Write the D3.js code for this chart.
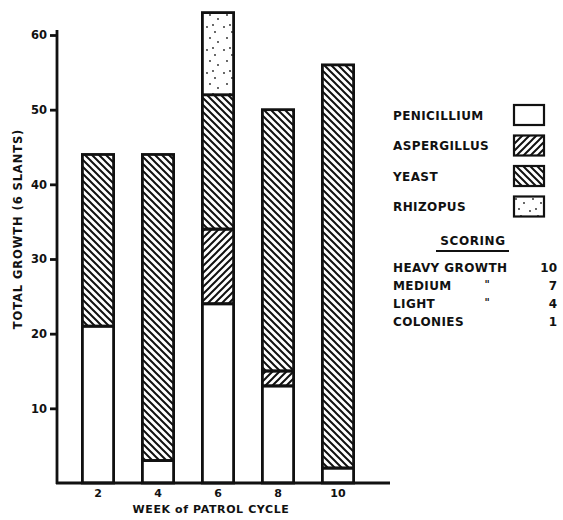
<!DOCTYPE html>
<html>
<head>
<meta charset="utf-8">
<script src="https://cdn.jsdelivr.net/npm/d3@7/dist/d3.min.js"></script>
<style>
  body { margin: 0; background: #fff; }
  text { font-family: "DejaVu Sans", sans-serif; font-weight: bold; fill: #111; }
</style>
</head>
<body>
<div id="container"></div>
<script>
// chart values
const weeks = ["2", "4", "6", "8", "10"];
const penicillium = [21, 3, 24, 13, 2];
const aspergillus = [0, 0, 10, 2, 0];
const yeast = [23, 41, 18, 35, 54];
const rhizopus = [0, 0, 11, 0, 0];
const yTicks = [10, 20, 30, 40, 50, 60];

const organisms = ["PENICILLIUM", "ASPERGILLUS", "YEAST", "RHIZOPUS"];
const scoring = [["HEAVY GROWTH", "", "10"], ["MEDIUM", "\"", "7"], ["LIGHT", "\"", "4"], ["COLONIES", "", "1"]];

const width = 563, height = 520;

const rows = weeks.map((w, i) => ({
  week: w, PENICILLIUM: penicillium[i], ASPERGILLUS: aspergillus[i],
  YEAST: yeast[i], RHIZOPUS: rhizopus[i]
}));

const svg = d3.select("#container").append("svg")
  .attr("width", width).attr("height", height);

// hatch patterns
const defs = svg.append("defs");
defs.append("pattern").attr("id", "asp").attr("patternUnits", "userSpaceOnUse")
  .attr("width", 7).attr("height", 7)
  .append("path").attr("d", "M-1,1 l2,-2 M0,7 l7,-7 M6,8 l2,-2")
  .attr("stroke", "#111").attr("stroke-width", 2);
defs.append("pattern").attr("id", "yst").attr("patternUnits", "userSpaceOnUse")
  .attr("width", 7).attr("height", 7)
  .append("path").attr("d", "M-1,6 l2,2 M0,0 l7,7 M6,-1 l2,2")
  .attr("stroke", "#111").attr("stroke-width", 2);
const dots = defs.append("pattern").attr("id", "rhi").attr("patternUnits", "userSpaceOnUse")
  .attr("width", 17).attr("height", 23);
dots.append("rect").attr("width", 17).attr("height", 23).attr("fill", "#fff");
[[3, 4], [11, 9], [6, 15], [14, 19], [9, 2]].forEach(p =>
  dots.append("circle").attr("cx", p[0]).attr("cy", p[1]).attr("r", 0.9).attr("fill", "#222"));

const fills = { PENICILLIUM: "#fff", ASPERGILLUS: "url(#asp)", YEAST: "url(#yst)", RHIZOPUS: "url(#rhi)" };

const x = d3.scaleBand().domain(weeks).range([68, 368]).paddingInner(0.48).paddingOuter(0.24);
const y = d3.scaleLinear().domain([0, 60]).range([483, 35]);

const series = d3.stack().keys(organisms)(rows);

// bars
svg.append("g").selectAll("g").data(series).join("g")
  .attr("fill", d => fills[d.key])
  .selectAll("rect").data(d => d.filter(s => s[1] > s[0])).join("rect")
  .attr("x", d => x(d.data.week))
  .attr("y", d => y(d[1]))
  .attr("width", x.bandwidth())
  .attr("height", d => y(d[0]) - y(d[1]))
  .attr("stroke", "#111").attr("stroke-width", 2.8);

// y axis
const yAxis = svg.append("g").attr("transform", "translate(57,0)")
  .call(d3.axisLeft(y).tickValues(yTicks).tickSize(7).tickSizeOuter(0).tickPadding(3));
yAxis.select(".domain").attr("stroke", "#111").attr("stroke-width", 2.8).attr("d", "M0,30V484");
yAxis.selectAll(".tick line").attr("stroke", "#111").attr("stroke-width", 2.8);
yAxis.selectAll(".tick text").attr("font-size", 11.5).attr("font-family", "DejaVu Sans").attr("font-weight", "bold").attr("fill", "#111");

// x axis
const xAxis = svg.append("g").attr("transform", "translate(0,483)")
  .call(d3.axisBottom(x).tickSize(0).tickPadding(6));
xAxis.select(".domain").attr("stroke", "#111").attr("stroke-width", 2.8).attr("d", "M56,0H390");
xAxis.selectAll(".tick text").attr("font-size", 11).attr("font-family", "DejaVu Sans").attr("font-weight", "bold").attr("fill", "#111");

// axis titles
svg.append("text").attr("x", 211).attr("y", 513).attr("text-anchor", "middle")
  .attr("font-size", 11).attr("letter-spacing", 0.6)
  .text("WEEK of PATROL CYCLE");
svg.append("text").attr("transform", "translate(22,229) rotate(-90)").attr("text-anchor", "middle")
  .attr("font-size", 11.5).attr("letter-spacing", 0.9)
  .text("TOTAL GROWTH (6 SLANTS)");

// legend
const leg = svg.append("g");
organisms.forEach((k, i) => {
  const ly = 115 + i * 30.5;
  leg.append("text").attr("x", 393).attr("y", ly + 4.5).attr("font-size", 12).attr("letter-spacing", 0.4).text(k);
  leg.append("rect").attr("x", 514).attr("y", ly - 10).attr("width", 30).attr("height", 20)
    .attr("fill", fills[k]).attr("stroke", "#111").attr("stroke-width", 2.2);
});

svg.append("text").attr("x", 473).attr("y", 245).attr("text-anchor", "middle")
  .attr("font-size", 12).attr("letter-spacing", 0.6).text("SCORING");
svg.append("line").attr("x1", 436).attr("x2", 509).attr("y1", 251).attr("y2", 251)
  .attr("stroke", "#111").attr("stroke-width", 1.8);

scoring.forEach((r, i) => {
  const sy = 271.5 + i * 18;
  svg.append("text").attr("x", 393).attr("y", sy).attr("font-size", 12).attr("letter-spacing", 0.4).text(r[0]);
  svg.append("text").attr("x", 487).attr("y", sy - 2).attr("font-size", 10).attr("text-anchor", "middle").attr("fill", "#111").text(r[1]);
  svg.append("text").attr("x", 557).attr("y", sy).attr("font-size", 12).attr("text-anchor", "end").text(r[2]);
});
</script>
</body>
</html>
